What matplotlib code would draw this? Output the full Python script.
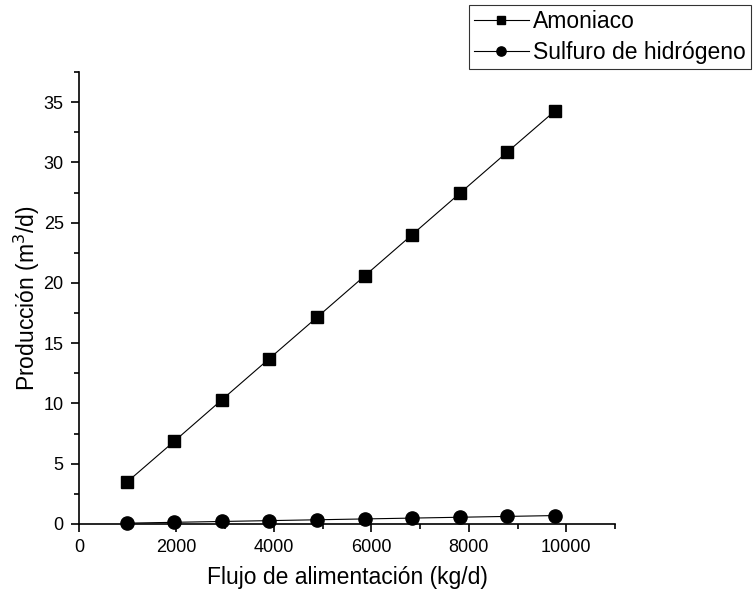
import matplotlib
matplotlib.use("Agg")
import matplotlib.pyplot as plt
from matplotlib.ticker import MultipleLocator

plt.rcParams['font.family'] = ['Liberation Sans', 'DejaVu Sans']

flujo = [977, 1954, 2931, 3908, 4885, 5862, 6839, 7816, 8793, 9770]
amoniaco = [3.45, 6.86, 10.30, 13.73, 17.15, 20.58, 24.01, 27.44, 30.87, 34.28]
sulfuro = [0.07, 0.14, 0.21, 0.28, 0.35, 0.42, 0.49, 0.56, 0.63, 0.70]

fig = plt.figure(figsize=(7.53, 5.99), dpi=100)
ax = fig.add_axes([79/753, 1-524/599, (615-79)/753, (524-72)/599])

l1, = ax.plot(flujo, amoniaco, color='black', lw=0.8, marker='s', ms=8.5,
              label='Amoniaco', clip_on=False)
l2, = ax.plot(flujo, sulfuro, color='black', lw=0.8, marker='o', ms=9.5,
              label='Sulfuro de hidrógeno', clip_on=False)

ax.set_xlim(0, 11000)
ax.set_ylim(0, 37.5)
ax.xaxis.set_major_locator(MultipleLocator(2000))
ax.xaxis.set_minor_locator(MultipleLocator(1000))
ax.yaxis.set_major_locator(MultipleLocator(5))
ax.yaxis.set_minor_locator(MultipleLocator(2.5))

for s in ['top', 'right']:
    ax.spines[s].set_visible(False)
for s in ['left', 'bottom']:
    ax.spines[s].set_linewidth(1.2)

ax.tick_params(which='major', direction='out', length=6, width=1.2, labelsize=13)
ax.tick_params(axis='x', which='major', pad=5)
ax.tick_params(axis='y', which='major', pad=5)
ax.tick_params(which='minor', direction='out', length=3.5, width=1.2)

ax.set_xlabel('Flujo de alimentación (kg/d)', fontsize=16.5, labelpad=7)
ax.set_ylabel('Producción (m$^3$/d)', fontsize=16.5, labelpad=1)

leg = fig.legend(handles=[l1, l2], loc='upper left',
                 bbox_to_anchor=(469/753, 1-5/599), fontsize=16.5,
                 frameon=True, fancybox=False, edgecolor='black',
                 handlelength=2.4, handletextpad=0.2, borderpad=0.2,
                 labelspacing=0.38, borderaxespad=0, markerscale=0.7)
leg.get_frame().set_linewidth(0.8)

fig.savefig('out.png', dpi=100)
